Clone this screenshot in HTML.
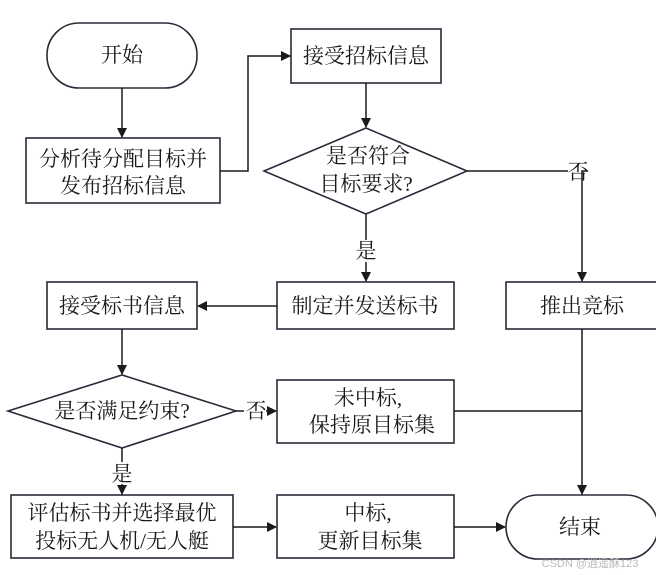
<!DOCTYPE html>
<html><head><meta charset="utf-8"><style>
html,body{margin:0;padding:0;background:#fff;}
svg{display:block;}
text{font-family:"Liberation Serif","Noto Serif CJK SC","Noto Sans CJK SC",serif;font-size:21px;fill:#1a1a1a;text-anchor:middle;}
</style></head><body>
<svg width="656" height="575" viewBox="0 0 656 575" xmlns="http://www.w3.org/2000/svg">
<defs><marker id="a" markerWidth="10" markerHeight="10" refX="9" refY="5" orient="auto" markerUnits="userSpaceOnUse"><path d="M0,0 L10,5 L0,10 z" fill="#1a1a1a"/></marker></defs>
<g fill="none" stroke="#2a2a3a" stroke-width="1.6">
<rect x="47" y="23" width="150" height="65" rx="32"/>
<rect x="26" y="138" width="194" height="65"/>
<rect x="291" y="29" width="150" height="54"/>
<polygon points="264,171 366,128 467,171 366,214"/>
<rect x="47" y="282" width="150" height="47"/>
<rect x="277" y="282" width="177" height="47"/>
<rect x="506" y="282" width="152" height="47"/>
<polygon points="8,411 122,375 236,411 122,448"/>
<rect x="277" y="380" width="177" height="63"/>
<rect x="11" y="495" width="222" height="63"/>
<rect x="277" y="495" width="177" height="63"/>
<rect x="506" y="495" width="152" height="64" rx="32"/>
</g>
<g fill="none" stroke="#1a1a1a" stroke-width="1.5">
<path d="M122,88 V137" marker-end="url(#a)"/>
<path d="M220,171 H248 V56 H290" marker-end="url(#a)"/>
<path d="M366,83 V127" marker-end="url(#a)"/>
<path d="M467,171 H568 M588,171 H582 V281" marker-end="url(#a)"/>
<path d="M366,214 V240 M366,262 V281" marker-end="url(#a)"/>
<path d="M277,306 H198" marker-end="url(#a)"/>
<path d="M122,329 V374" marker-end="url(#a)"/>
<path d="M236,411 H244 M266,411 H276" marker-end="url(#a)"/>
<path d="M454,411 H582"/>
<path d="M582,329 V494" marker-end="url(#a)"/>
<path d="M122,448 V462 M122,484 V494" marker-end="url(#a)"/>
<path d="M233,527 H276" marker-end="url(#a)"/>
<path d="M454,527 H505" marker-end="url(#a)"/>
</g>
<text x="122" y="62">开始</text>
<text x="123" y="166">分析待分配目标并</text>
<text x="123" y="193">发布招标信息</text>
<text x="366" y="63">接受招标信息</text>
<text x="368" y="163">是否符合</text>
<text x="366" y="191">目标要求?</text>
<text x="578" y="179">否</text>
<text x="366" y="258">是</text>
<text x="122" y="313">接受标书信息</text>
<text x="365" y="313">制定并发送标书</text>
<text x="582" y="313">推出竞标</text>
<text x="122" y="418">是否满足约束?</text>
<text x="256" y="418">否</text>
<text x="368" y="405">未中标,</text>
<text x="372" y="432">保持原目标集</text>
<text x="122" y="481">是</text>
<text x="122" y="520">评估标书并选择最优</text>
<text x="122" y="548">投标无人机/无人艇</text>
<text x="368" y="520">中标,</text>
<text x="370" y="548">更新目标集</text>
<text x="580" y="534">结束</text>
<text x="590" y="567" style="font-size:11px;fill:#bbb;font-family:'Liberation Sans','Noto Sans CJK SC',sans-serif">CSDN @逍遥酥123</text>
</svg>
</body></html>
